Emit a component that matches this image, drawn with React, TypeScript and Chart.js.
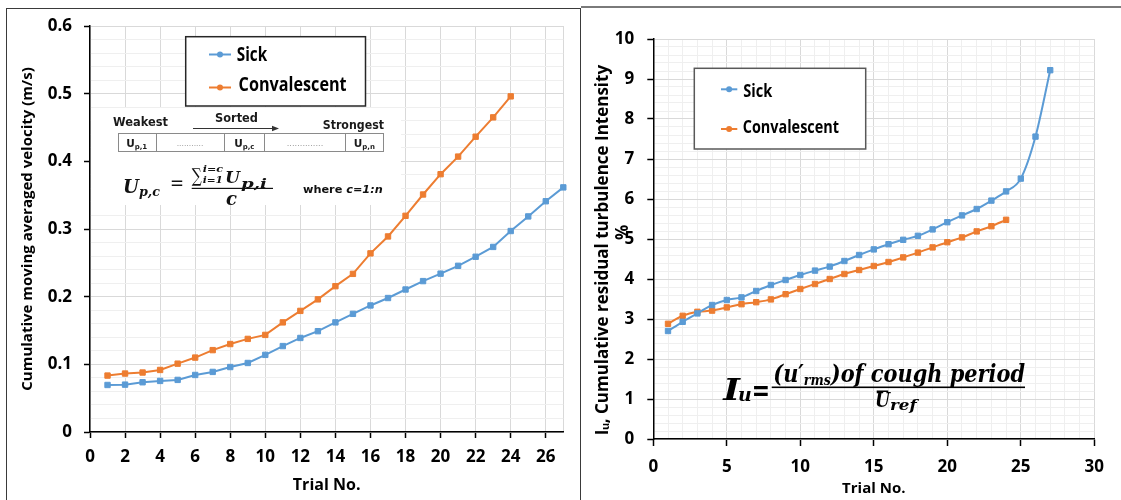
import React, { useEffect, useRef } from "react";
import { Chart, registerables } from "chart.js";
Chart.register(...registerables);

// ---------------- Left chart data (cumulative moving averaged velocity) ----------------
const velTrialsSick = [1, 2, 3, 4, 5, 6, 7, 8, 9, 10, 11, 12, 13, 14, 15, 16, 17, 18, 19, 20, 21, 22, 23, 24, 25, 26, 27];
const velSick = [0.0695, 0.07, 0.0735, 0.0755, 0.077, 0.0843, 0.0888, 0.096, 0.102, 0.114, 0.127, 0.139, 0.149, 0.162, 0.1746, 0.187, 0.198, 0.2106, 0.223, 0.234, 0.2456, 0.259, 0.2735, 0.297, 0.3186, 0.341, 0.3615];
const velTrialsConv = [1, 2, 3, 4, 5, 6, 7, 8, 9, 10, 11, 12, 13, 14, 15, 16, 17, 18, 19, 20, 21, 22, 23, 24];
const velConv = [0.0834, 0.0864, 0.0879, 0.0917, 0.101, 0.11, 0.121, 0.13, 0.1376, 0.1435, 0.162, 0.179, 0.196, 0.2155, 0.2337, 0.264, 0.289, 0.3195, 0.351, 0.381, 0.407, 0.4364, 0.465, 0.496];
const velXTickLabels = [0, 2, 4, 6, 8, 10, 12, 14, 16, 18, 20, 22, 24, 26];
const velYTickLabels = [0, 0.1, 0.2, 0.3, 0.4, 0.5, 0.6];

// ---------------- Right chart data (cumulative residual turbulence intensity) ----------------
const tiTrialsSick = [1, 2, 3, 4, 5, 6, 7, 8, 9, 10, 11, 12, 13, 14, 15, 16, 17, 18, 19, 20, 21, 22, 23, 24, 25, 26, 27];
const tiSick = [2.7, 2.93, 3.14, 3.35, 3.475, 3.54, 3.7, 3.85, 3.975, 4.1, 4.21, 4.31, 4.45, 4.6, 4.74, 4.87, 4.98, 5.08, 5.24, 5.42, 5.59, 5.75, 5.96, 6.19, 6.51, 7.56, 9.22];
const tiTrialsConv = [1, 2, 3, 4, 5, 6, 7, 8, 9, 10, 11, 12, 13, 14, 15, 16, 17, 18, 19, 20, 21, 22, 23, 24];
const tiConv = [2.88, 3.08, 3.18, 3.21, 3.29, 3.37, 3.42, 3.49, 3.62, 3.75, 3.875, 4.0, 4.125, 4.225, 4.325, 4.425, 4.54, 4.66, 4.79, 4.92, 5.04, 5.19, 5.32, 5.48];
const tiXTickLabels = [0, 5, 10, 15, 20, 25, 30];
const tiYTickLabels = [0, 1, 2, 3, 4, 5, 6, 7, 8, 9, 10];

const seriesNames = ["Sick", "Convalescent"];
const BLUE = "#5B9BD5";
const ORANGE = "#ED7D31";
const FONT = "'Open Sans', sans-serif";
const GRID_MAJOR = "#d9d9d9";
const GRID_MINOR = "#efefef";

function makeSteps(step: number, count: number, decimals: number) {
  const arr: number[] = [];
  for (let k = 0; k <= count; k++) arr.push(+(k * step).toFixed(decimals));
  return arr;
}
const isIn = (v: number, list: number[]) => list.some((m) => Math.abs(m - v) < 1e-9);

type Run = { t: string; font: string; dy?: number };
function runsWidth(ctx: CanvasRenderingContext2D, runs: Run[]) {
  let w = 0;
  for (const r of runs) {
    ctx.font = r.font;
    w += ctx.measureText(r.t).width;
  }
  return w;
}
function drawRuns(ctx: CanvasRenderingContext2D, x: number, y: number, runs: Run[], targetW?: number, baseline: CanvasTextBaseline = "alphabetic") {
  const w = runsWidth(ctx, runs);
  const sx = targetW ? targetW / w : 1;
  ctx.save();
  ctx.translate(x, y);
  ctx.scale(sx, 1);
  ctx.textAlign = "left";
  ctx.textBaseline = baseline;
  let cx = 0;
  for (const r of runs) {
    ctx.font = r.font;
    ctx.fillText(r.t, cx, r.dy || 0);
    cx += ctx.measureText(r.t).width;
  }
  ctx.restore();
}
function drawRunsCentered(ctx: CanvasRenderingContext2D, cx: number, y: number, runs: Run[]) {
  const w = runsWidth(ctx, runs);
  drawRuns(ctx, cx - w / 2, y, runs);
}

const sansB = (s: number) => `bold ${s}px 'DejaVu Sans', sans-serif`;
const sansBI = (s: number) => `bold italic ${s}px 'DejaVu Sans', sans-serif`;
const serifBI = (s: number) => `bold italic ${s}px 'DejaVu Serif', serif`;
const serifB = (s: number) => `bold ${s}px 'DejaVu Serif', serif`;
const serifN = (s: number) => `${s}px 'DejaVu Serif', serif`;

type LegendSpec = {
  box: [number, number, number, number];
  border: string;
  font: string;
  rows: { lineX0: number; lineX1: number; lineY: number; textX: number; textY: number; textW: number }[];
};
function drawLegend(chart: any, spec: LegendSpec) {
  const ctx: CanvasRenderingContext2D = chart.ctx;
  const [x, y, w, h] = spec.box;
  ctx.save();
  ctx.fillStyle = "#fff";
  ctx.fillRect(x, y, w, h);
  ctx.strokeStyle = spec.border;
  ctx.lineWidth = 1.5;
  ctx.strokeRect(x, y, w, h);
  chart.data.datasets.forEach((ds: any, i: number) => {
    const r = spec.rows[i];
    ctx.strokeStyle = ds.borderColor;
    ctx.lineWidth = 2;
    ctx.beginPath();
    ctx.moveTo(r.lineX0, r.lineY);
    ctx.lineTo(r.lineX1, r.lineY);
    ctx.stroke();
    ctx.fillStyle = ds.borderColor;
    ctx.beginPath();
    ctx.arc((r.lineX0 + r.lineX1) / 2, r.lineY, 3, 0, Math.PI * 2);
    ctx.fill();
    ctx.fillStyle = "#000";
    drawRuns(ctx, r.textX, r.textY, [{ t: ds.label, font: spec.font }], r.textW, "middle");
  });
  ctx.restore();
}

const leftOverlay = {
  id: "leftOverlay",
  afterDraw(chart: any) {
    const ctx: CanvasRenderingContext2D = chart.ctx;
    ctx.save();
    // inset picture background
    ctx.fillStyle = "#fff";
    ctx.fillRect(91, 108, 310, 97);
    ctx.fillStyle = "#1a1a1a";
    drawRuns(ctx, 113, 122.7, [{ t: "Weakest", font: sansB(11.5) }], 55, "middle");
    drawRuns(ctx, 215, 119.3, [{ t: "Sorted", font: sansB(11.5) }], 43, "middle");
    drawRuns(ctx, 322.7, 125.7, [{ t: "Strongest", font: sansB(11.5) }], 61.3, "middle");
    // arrow
    ctx.strokeStyle = "#333";
    ctx.lineWidth = 1;
    ctx.beginPath();
    ctx.moveTo(193, 128.5);
    ctx.lineTo(274, 128.5);
    ctx.stroke();
    ctx.fillStyle = "#333";
    ctx.beginPath();
    ctx.moveTo(279, 128.5);
    ctx.lineTo(272, 125.8);
    ctx.lineTo(272, 131.2);
    ctx.closePath();
    ctx.fill();
    // table
    ctx.strokeStyle = "#8a8a8a";
    ctx.lineWidth = 1;
    ctx.strokeRect(118.5, 133.5, 265, 18);
    [156.5, 224.5, 264.5, 345.5].forEach((dx) => {
      ctx.beginPath();
      ctx.moveTo(dx, 133.5);
      ctx.lineTo(dx, 151.5);
      ctx.stroke();
    });
    ctx.fillStyle = "#1a1a1a";
    const cell = (cx: number, sub: string) =>
      drawRunsCentered(ctx, cx, 147, [
        { t: "U", font: sansB(10.5) },
        { t: sub, font: sansB(7), dy: 2 },
      ]);
    cell(136.7, "p,1");
    cell(244.3, "p,c");
    cell(364.3, "p,n");
    ctx.fillStyle = "#777";
    drawRuns(ctx, 176.7, 145.5, [{ t: "...........", font: "6px 'DejaVu Sans'" }], 26.6);
    drawRuns(ctx, 286.7, 145.5, [{ t: "..............", font: "6px 'DejaVu Sans'" }], 36.6);
    // formula
    ctx.fillStyle = "#111";
    drawRuns(ctx, 123, 193.3, [
      { t: "U", font: serifBI(18) },
      { t: "p,c", font: serifBI(12.5), dy: 3 },
    ], 37);
    drawRuns(ctx, 170, 189.5, [{ t: "=", font: serifN(20) }], 14);
    drawRuns(ctx, 191.7, 182, [{ t: "\u2211", font: serifN(19) }], 10);
    drawRuns(ctx, 202.7, 171.7, [{ t: "i=c", font: serifBI(10) }], 20.3);
    drawRuns(ctx, 202.7, 183, [{ t: "i=1", font: serifBI(10) }], 20.3);
    drawRuns(ctx, 225, 183.3, [{ t: "U", font: serifBI(17) }], 15);
    drawRuns(ctx, 241, 188, [{ t: "p,i", font: serifBI(13) }], 26);
    ctx.fillRect(191.7, 187.8, 81.3, 1.2);
    drawRunsCentered(ctx, 231.5, 204.5, [{ t: "c", font: serifBI(18) }]);
    drawRuns(ctx, 303, 192.5, [
      { t: "where ", font: sansB(10) },
      { t: "c=1:n", font: sansBI(10) },
    ], 79.7);
    ctx.restore();
    drawLegend(chart, {
      box: [185.7, 36.7, 179.8, 69.3],
      border: "#262626",
      font: `bold 19px ${FONT}`,
      rows: [
        { lineX0: 209, lineX1: 231, lineY: 54.5, textX: 236.8, textY: 55.5, textW: 30.3 },
        { lineX0: 209, lineX1: 231, lineY: 87.5, textX: 238.6, textY: 85.5, textW: 108 },
      ],
    });
  },
};

const rightOverlay = {
  id: "rightOverlay",
  afterDraw(chart: any) {
    const ctx: CanvasRenderingContext2D = chart.ctx;
    ctx.save();
    ctx.fillStyle = "#000";
    drawRuns(ctx, 143.3, 399.5, [{ t: "I", font: serifBI(30) }], 16.7);
    drawRuns(ctx, 158, 401, [{ t: "u", font: serifBI(19) }], 13.7);
    drawRuns(ctx, 171.7, 400, [{ t: "=", font: serifB(30) }], 18.3);
    drawRuns(ctx, 193.3, 382, [
      { t: "(u\u2032", font: serifBI(25) },
      { t: "rms", font: serifBI(15), dy: 3 },
      { t: ")of cough period", font: serifBI(25) },
    ], 251.7);
    ctx.fillRect(191.7, 386.5, 253.3, 1.6);
    drawRuns(ctx, 295, 407, [{ t: "U", font: serifBI(21) }], 15);
    ctx.fillRect(296.7, 390.5, 11.6, 1.5);
    drawRuns(ctx, 310, 410, [{ t: "ref", font: serifBI(15) }], 26.7);
    ctx.restore();
    drawLegend(chart, {
      box: [114.3, 68.3, 171.4, 80.7],
      border: "#595959",
      font: `bold 17px ${FONT}`,
      rows: [
        { lineX0: 141, lineX1: 157.3, lineY: 89.3, textX: 163.3, textY: 91.7, textW: 29 },
        { lineX0: 141, lineX1: 157.3, lineY: 129, textX: 162.7, textY: 128.3, textW: 96.3 },
      ],
    });
  },
};

function dataset(label: string, xs: number[], ys: number[], color: string, smooth: boolean) {
  return {
    label,
    data: xs.map((x, i) => ({ x, y: ys[i] })),
    borderColor: color,
    backgroundColor: color,
    borderWidth: 2,
    pointStyle: "rect",
    pointRadius: 3.8,
    pointBorderWidth: 1,
    pointBorderColor: color,
    pointBackgroundColor: color,
    tension: smooth ? 0.4 : 0,
    cubicInterpolationMode: smooth ? "monotone" : "default",
    clip: false,
  };
}

function axis(opts: {
  min: number;
  max: number;
  values: number[];
  majors: number[];
  borderGrid?: number[];
  fit: (s: any) => void;
  tickFont: number;
  padding: number;
  tickLength: number;
  title: any;
  format: (v: number) => string;
}) {
  return {
    type: "linear",
    min: opts.min,
    max: opts.max,
    afterBuildTicks: (s: any) => {
      s.ticks = opts.values.map((v) => ({ value: v }));
    },
    afterFit: opts.fit,
    ticks: {
      autoSkip: false,
      maxRotation: 0,
      minRotation: 0,
      color: "#000",
      padding: opts.padding,
      font: { family: FONT, size: opts.tickFont, weight: "bold" },
      callback: (v: number) => (isIn(v, opts.majors) ? opts.format(v) : ""),
    },
    grid: {
      lineWidth: 1,
      tickLength: opts.tickLength,
      color: (c: any) => {
        const v = c.tick ? c.tick.value : 0;
        return isIn(v, opts.majors) || (opts.borderGrid && isIn(v, opts.borderGrid)) ? GRID_MAJOR : GRID_MINOR;
      },
      tickColor: (c: any) => (c.tick && isIn(c.tick.value, opts.majors) ? "#000" : "rgba(0,0,0,0)"),
      tickWidth: 1.5,
    },
    border: { display: true, color: "#000", width: 1.5 },
    title: opts.title,
  };
}

function leftConfig(): any {
  return {
    type: "line",
    data: {
      datasets: [
        dataset(seriesNames[0], velTrialsSick, velSick, BLUE, false),
        dataset(seriesNames[1], velTrialsConv, velConv, ORANGE, false),
      ],
    },
    options: {
      responsive: false,
      animation: false,
      devicePixelRatio: 1,
      layout: { padding: { left: 0, top: 26, right: 16.7, bottom: 0 } },
      plugins: { legend: { display: false }, tooltip: { enabled: false } },
      scales: {
        x: axis({
          min: 0,
          max: 27,
          values: [...velXTickLabels, 27],
          majors: velXTickLabels,
          borderGrid: [27],
          fit: (s: any) => {
            s.height = 68;
          },
          tickFont: 17,
          padding: 9,
          tickLength: 6,
          format: (v) => String(v),
          title: {
            display: true,
            text: "Trial No.",
            color: "#000",
            font: { family: FONT, size: 16, weight: "bold" },
            padding: { top: 0, bottom: 5 },
          },
        }),
        y: axis({
          min: 0,
          max: 0.6,
          values: makeSteps(0.02, 30, 2),
          majors: velYTickLabels,
          fit: (s: any) => {
            s.width = 90;
          },
          tickFont: 17,
          padding: 12,
          tickLength: 6,
          format: (v) => String(v),
          title: {
            display: true,
            text: "Cumulative moving averaged velocity (m/s)",
            color: "#000",
            font: { family: FONT, size: 15, weight: "bold" },
            padding: { top: 19, bottom: 0 },
          },
        }),
      },
    },
    plugins: [leftOverlay],
  };
}

function rightConfig(): any {
  return {
    type: "line",
    data: {
      datasets: [
        dataset(seriesNames[0], tiTrialsSick, tiSick, BLUE, true),
        dataset(seriesNames[1], tiTrialsConv, tiConv, ORANGE, true),
      ],
    },
    options: {
      responsive: false,
      animation: false,
      devicePixelRatio: 1,
      layout: { padding: { left: 0, top: 39, right: 26.7, bottom: 0 } },
      plugins: { legend: { display: false }, tooltip: { enabled: false } },
      scales: {
        x: axis({
          min: 0,
          max: 30,
          values: makeSteps(1, 30, 0),
          majors: tiXTickLabels,
          fit: (s: any) => {
            s.height = 61;
          },
          tickFont: 17,
          padding: 11,
          tickLength: 7,
          format: (v) => String(v),
          title: {
            display: true,
            text: "Trial No.",
            color: "#000",
            font: { family: FONT, size: 15, weight: "bold" },
            padding: { top: 0, bottom: 2 },
          },
        }),
        y: axis({
          min: 0,
          max: 10,
          values: makeSteps(0.2, 50, 1),
          majors: tiYTickLabels,
          fit: (s: any) => {
            s.width = 73.3;
          },
          tickFont: 17,
          padding: 13,
          tickLength: 6,
          format: (v) => String(Math.round(v)),
          title: {
            display: true,
            text: ["I\u1D64, Cumulative residual turbulence Intensity     ", "   %"],
            color: "#000",
            font: { family: FONT, size: 17, weight: "bold", lineHeight: 1.18 },
            padding: { top: 13.3, bottom: 0 },
          },
        }),
      },
    },
    plugins: [rightOverlay],
  };
}

function ChartCanvas(props: { make: () => any; left: number; width: number; height: number }) {
  const ref = useRef<HTMLCanvasElement>(null);
  useEffect(() => {
    const chart = new Chart(ref.current as HTMLCanvasElement, props.make());
    return () => chart.destroy();
  }, []);
  return (
    <canvas
      ref={ref}
      width={props.width}
      height={props.height}
      style={{ position: "absolute", left: props.left, top: 0, width: props.width, height: props.height }}
    />
  );
}

export default function App() {
  return (
    <div
      style={{
        position: "absolute",
        left: 0,
        top: 0,
        width: 1121,
        height: 500,
        overflow: "hidden",
        background: "#fff",
      }}
    >
      <ChartCanvas make={leftConfig} left={0} width={580} height={500} />
      <ChartCanvas make={rightConfig} left={580} width={541} height={500} />
      <div
        style={{
          position: "absolute",
          left: 6,
          top: 7.5,
          width: 575,
          height: 540,
          boxSizing: "border-box",
          border: "1.5px solid #3a3a3a",
          pointerEvents: "none",
        }}
      />
      <div
        style={{
          position: "absolute",
          left: 581,
          top: 6,
          width: 540,
          height: 2,
          background: "#7a7a7a",
          pointerEvents: "none",
        }}
      />
    </div>
  );
}
